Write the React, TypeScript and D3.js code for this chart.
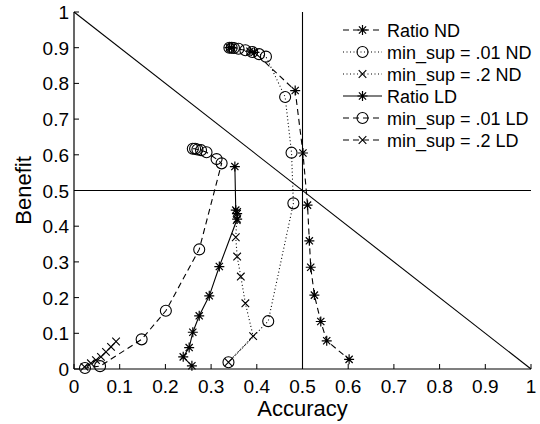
import React from "react";
import * as d3 from "d3";

const xTicks = [0, 0.1, 0.2, 0.3, 0.4, 0.5, 0.6, 0.7, 0.8, 0.9, 1];
const yTicks = [0, 0.1, 0.2, 0.3, 0.4, 0.5, 0.6, 0.7, 0.8, 0.9, 1];
const xTickLabels = ["0", "0.1", "0.2", "0.3", "0.4", "0.5", "0.6", "0.7", "0.8", "0.9", "1"];
const yTickLabels = ["0", "0.1", "0.2", "0.3", "0.4", "0.5", "0.6", "0.7", "0.8", "0.9", "1"];

const seriesNames = [
  "Ratio ND",
  "min_sup = .01 ND",
  "min_sup = .2 ND",
  "Ratio LD",
  "min_sup = .01 LD",
  "min_sup = .2 LD",
];

const ratioNDx = [0.34, 0.345, 0.385, 0.395, 0.484, 0.501, 0.511, 0.515, 0.518, 0.526, 0.54, 0.553, 0.602];
const ratioNDy = [0.9, 0.9, 0.89, 0.887, 0.78, 0.605, 0.459, 0.359, 0.285, 0.207, 0.133, 0.079, 0.027];

const sup01NDx = [0.34, 0.345, 0.35, 0.36, 0.375, 0.39, 0.405, 0.42, 0.462, 0.476, 0.48, 0.425, 0.338];
const sup01NDy = [0.9, 0.9, 0.899, 0.897, 0.893, 0.888, 0.882, 0.875, 0.762, 0.606, 0.464, 0.134, 0.019];

const sup2NDx = [0.357, 0.356, 0.354, 0.357, 0.365, 0.375, 0.392, 0.338];
const sup2NDy = [0.44, 0.417, 0.369, 0.315, 0.259, 0.184, 0.092, 0.019];

const ratioLDx = [0.352, 0.354, 0.357, 0.357, 0.318, 0.296, 0.274, 0.26, 0.252, 0.239, 0.258];
const ratioLDy = [0.567, 0.445, 0.435, 0.42, 0.287, 0.205, 0.149, 0.103, 0.06, 0.034, 0.009];

const sup01LDx = [0.26, 0.265, 0.27, 0.278, 0.29, 0.312, 0.323, 0.274, 0.201, 0.148, 0.057, 0.024];
const sup01LDy = [0.617, 0.617, 0.615, 0.613, 0.607, 0.588, 0.576, 0.335, 0.163, 0.083, 0.008, 0.003];

const sup2LDx = [0.023, 0.037, 0.048, 0.059, 0.07, 0.081, 0.092];
const sup2LDy = [0.006, 0.016, 0.025, 0.034, 0.048, 0.062, 0.077];

type Marker = "star" | "circle" | "x";
const seriesX = [ratioNDx, sup01NDx, sup2NDx, ratioLDx, sup01LDx, sup2LDx];
const seriesY = [ratioNDy, sup01NDy, sup2NDy, ratioLDy, sup01LDy, sup2LDy];
const seriesDash = ["6,4", "1,2.5", "1,2.5", "", "6,4", "6,4"];
const seriesMarker: Marker[] = ["star", "circle", "x", "star", "circle", "x"];

const FONT = "'Liberation Sans', Arial, Helvetica, sans-serif";

function MarkerShape({ type, x, y }: { type: Marker; x: number; y: number }) {
  if (type === "circle") {
    return <circle cx={x} cy={y} r={5.5} fill="none" stroke="#000" strokeWidth={1.1} />;
  }
  if (type === "x") {
    const s = 3.8;
    return (
      <path
        d={`M${x - s},${y - s}L${x + s},${y + s}M${x - s},${y + s}L${x + s},${y - s}`}
        stroke="#000"
        strokeWidth={1.1}
        fill="none"
      />
    );
  }
  const s = 5;
  const d = 3.6;
  return (
    <path
      d={`M${x - s},${y}L${x + s},${y}M${x},${y - s}L${x},${y + s}M${x - d},${y - d}L${x + d},${y + d}M${x - d},${y + d}L${x + d},${y - d}`}
      stroke="#000"
      strokeWidth={1.2}
      fill="none"
    />
  );
}

export default function App() {
  const width = 540;
  const height = 424;
  const x = d3.scaleLinear().domain([0, 1]).range([74, 531]);
  const y = d3.scaleLinear().domain([0, 1]).range([369, 12]);
  const line = d3
    .line<[number, number]>()
    .x((d) => x(d[0]))
    .y((d) => y(d[1]));

  const tickLen = 5;
  const legendX0 = 343;
  const legendX1 = 382;
  const legendTextX = 387;
  const legendY0 = 30;
  const legendStep = 22;

  return (
    <div style={{ position: "fixed", left: 0, top: 0 }}>
      <svg width={width} height={height} style={{ display: "block", background: "#fff" }}>
        <rect x={0} y={0} width={width} height={height} fill="#fff" />
        {/* reference lines */}
        <line x1={x(0.5)} x2={x(0.5)} y1={y(0)} y2={y(1)} stroke="#000" strokeWidth={1.1} />
        <line x1={x(0)} x2={x(1)} y1={y(0.5)} y2={y(0.5)} stroke="#000" strokeWidth={1.1} />
        <line x1={x(0)} x2={x(1)} y1={y(1)} y2={y(0)} stroke="#000" strokeWidth={1.1} />

        {/* series */}
        {seriesX.map((xs, i) => {
          const pts: [number, number][] = xs.map((v, j) => [v, seriesY[i][j]]);
          return (
            <g key={i}>
              <path
                d={line(pts) || ""}
                fill="none"
                stroke="#000"
                strokeWidth={1.1}
                strokeDasharray={seriesDash[i] || undefined}
              />
              {pts.map((p, j) => (
                <MarkerShape key={j} type={seriesMarker[i]} x={x(p[0])} y={y(p[1])} />
              ))}
            </g>
          );
        })}

        {/* axes */}
        <line x1={x(0)} x2={x(1)} y1={y(0)} y2={y(0)} stroke="#000" strokeWidth={1.2} />
        <line x1={x(0)} x2={x(0)} y1={y(0)} y2={y(1)} stroke="#000" strokeWidth={1.2} />
        {xTicks.map((t, i) => (
          <g key={"xt" + i}>
            <line x1={x(t)} x2={x(t)} y1={y(0)} y2={y(0) - tickLen} stroke="#000" strokeWidth={1} />
            <text
              x={x(t)}
              y={y(0) + 24}
              textAnchor="middle"
              fontFamily={FONT}
              fontSize={19}
              fill="#000"
            >
              {xTickLabels[i]}
            </text>
          </g>
        ))}
        {yTicks.map((t, i) => (
          <g key={"yt" + i}>
            <line x1={x(0)} x2={x(0) + tickLen} y1={y(t)} y2={y(t)} stroke="#000" strokeWidth={1} />
            <text
              x={x(0) - 5}
              y={y(t) + 7}
              textAnchor="end"
              fontFamily={FONT}
              fontSize={19}
              fill="#000"
            >
              {yTickLabels[i]}
            </text>
          </g>
        ))}
        <text x={x(0.5)} y={416} textAnchor="middle" fontFamily={FONT} fontSize={22} fill="#000">
          Accuracy
        </text>
        <text
          transform={`translate(31,${y(0.5)}) rotate(-90)`}
          textAnchor="middle"
          fontFamily={FONT}
          fontSize={22}
          fill="#000"
        >
          Benefit
        </text>

        {/* legend */}
        {seriesNames.map((name, i) => {
          const ly = legendY0 + i * legendStep;
          return (
            <g key={"lg" + i}>
              <line
                x1={legendX0}
                x2={legendX1}
                y1={ly}
                y2={ly}
                stroke="#000"
                strokeWidth={1.1}
                strokeDasharray={seriesDash[i] || undefined}
              />
              <MarkerShape type={seriesMarker[i]} x={(legendX0 + legendX1) / 2} y={ly} />
              <text x={legendTextX} y={ly + 6.5} fontFamily={FONT} fontSize={18} fill="#000">
                {name}
              </text>
            </g>
          );
        })}
      </svg>
    </div>
  );
}
